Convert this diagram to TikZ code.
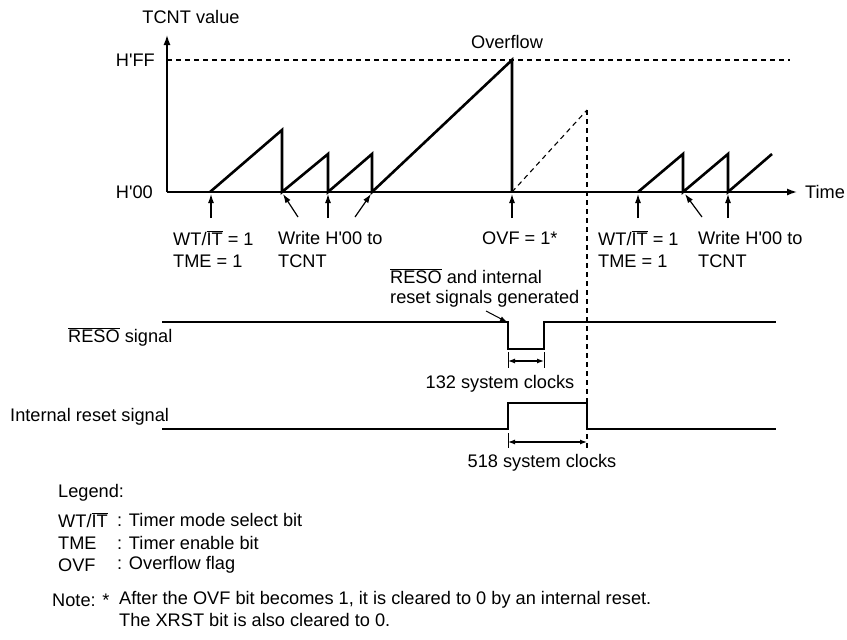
\documentclass[tikz,border=0pt]{standalone}
\usepackage{fontspec}
\setmainfont{Liberation Sans}[Ligatures=TeXOff]
\usetikzlibrary{arrows.meta}
\newcommand\ovl[1]{\ensuremath{\overline{\mbox{#1}}}}
\begin{document}
\begin{tikzpicture}[x=1pt,y=-1pt,
  font=\fontsize{18.2}{21}\selectfont,
  wave/.style={line width=2.6pt,line join=miter},
  axisline/.style={line width=1.4pt,-{Latex[length=10pt,width=7pt]}},
  ptr/.style={line width=1.2pt,-{Latex[length=9pt,width=6pt]}},
  dimline/.style={line width=1.2pt,{Latex[length=7pt,width=5pt]}-{Latex[length=7pt,width=5pt]}},
  tick/.style={line width=0.9pt},
  dashline/.style={line width=1.1pt,dash pattern=on 5pt off 4pt},
  lbl/.style={inner sep=0pt,anchor=west},
  clbl/.style={inner sep=0pt}]
\useasboundingbox (0,0) rectangle (847,640);

% axes
\coordinate (O) at (167,192);
\coordinate (Ytop) at (167,35);
\coordinate (Xend) at (797,192);
\draw[axisline] (O) -- (Ytop);
\draw[axisline] (O) -- (Xend);
\coordinate (FFl) at (167,60);
\coordinate (FFr) at (790,60);
\draw[dashline] (FFl) -- (FFr);

% first sawtooth
\draw[wave] (210,192) -- (282,130) -- (282,192) -- (328,154) -- (328,192)
  -- (372,154) -- (372,192) -- (512,60) -- (512,192);
% dashed continuation
\coordinate (Dpk) at (587,110);
\coordinate (Dbot) at (587,448);
\draw[dashline] (512,192) -- (Dpk);
\draw[dashline] (Dpk) -- (Dbot);
% second sawtooth
\draw[wave] (638,192) -- (683,154) -- (683,192) -- (728,154) -- (728,192) -- (772,154);

% labels top
\node[clbl] (tcnt) at (191,17) {TCNT value};
\node[clbl,anchor=east] (hff) at (155,60) {H'FF};
\node[clbl,anchor=east] (h00) at (153,192) {H'00};
\node[clbl] (ovf) at (507,42) {Overflow};
\node[lbl] (time) at (805,192) {Time};

% pointer arrows
\draw[ptr] (211,218) -- (211,194);
\draw[ptr] (298,217) -- (283,194);
\draw[ptr] (328,218) -- (328,194);
\draw[ptr] (355,217) -- (371,194);
\draw[ptr] (512,218) -- (512,194);
\draw[ptr] (638,218) -- (638,194);
\draw[ptr] (702,217) -- (685,194);
\draw[ptr] (728,218) -- (728,194);

\node[lbl] (wt1) at (173,238) {WT/\ovl{IT} = 1};
\node[lbl] (tme1) at (173,261) {TME = 1};
\node[lbl] (wr1) at (278,238) {Write H'00 to};
\node[lbl] (tc1) at (278,261) {TCNT};
\node[lbl] (ovf1) at (482,238) {OVF = 1*};
\node[lbl] (wt2) at (598,238) {WT/\ovl{IT} = 1};
\node[lbl] (tme2) at (598,261) {TME = 1};
\node[lbl] (wr2) at (698,238) {Write H'00 to};
\node[lbl] (tc2) at (698,261) {TCNT};

\node[lbl] (gen1) at (390,276) {\ovl{RESO} and internal};
\node[lbl] (gen2) at (390,299) {reset signals generated};
\draw[ptr,line width=1pt,-{Latex[length=7pt,width=5pt]}] (486,311) -- (507,322);

% signals
\node[lbl] (reso) at (68,337) {\ovl{RESO} signal};
\node[lbl] (irs) at (10,417) {Internal reset signal};
\draw[wave] (162,322) -- (508,322) -- (508,349) -- (544,349) -- (544,322) -- (776,322);
\draw[wave] (162,429) -- (508,429) -- (508,403) -- (587,403) -- (587,429) -- (776,429);

% dimensions
\draw[tick] (508,352) -- (508,368);
\draw[tick] (544,352) -- (544,368);
\draw[dimline] (508,361) -- (544,361);
\node[clbl] (c132) at (500,384) {132 system clocks};
\draw[tick] (508,433) -- (508,448);
\draw[dimline] (508,442) -- (587,442);
\node[clbl] (c518) at (542,463) {518 system clocks};

% legend
\node[lbl] (leg) at (58,493) {Legend:};
\node[lbl] (l1) at (58,520) {WT/\ovl{IT}};
\node[lbl] (l1t) at (117,520) {: Timer mode select bit};
\node[lbl] (l2) at (58,543) {TME};
\node[lbl] (l2t) at (117,543) {: Timer enable bit};
\node[lbl] (l3) at (58,565) {OVF};
\node[lbl] (l3t) at (117,565) {: Overflow flag};
\node[lbl] (note) at (52,600) {Note: *};
\node[lbl] (n1) at (119,600) {After the OVF bit becomes 1, it is cleared to 0 by an internal reset.};
\node[lbl] (n2) at (119,620) {The XRST bit is also cleared to 0.};
\end{tikzpicture}
\end{document}
